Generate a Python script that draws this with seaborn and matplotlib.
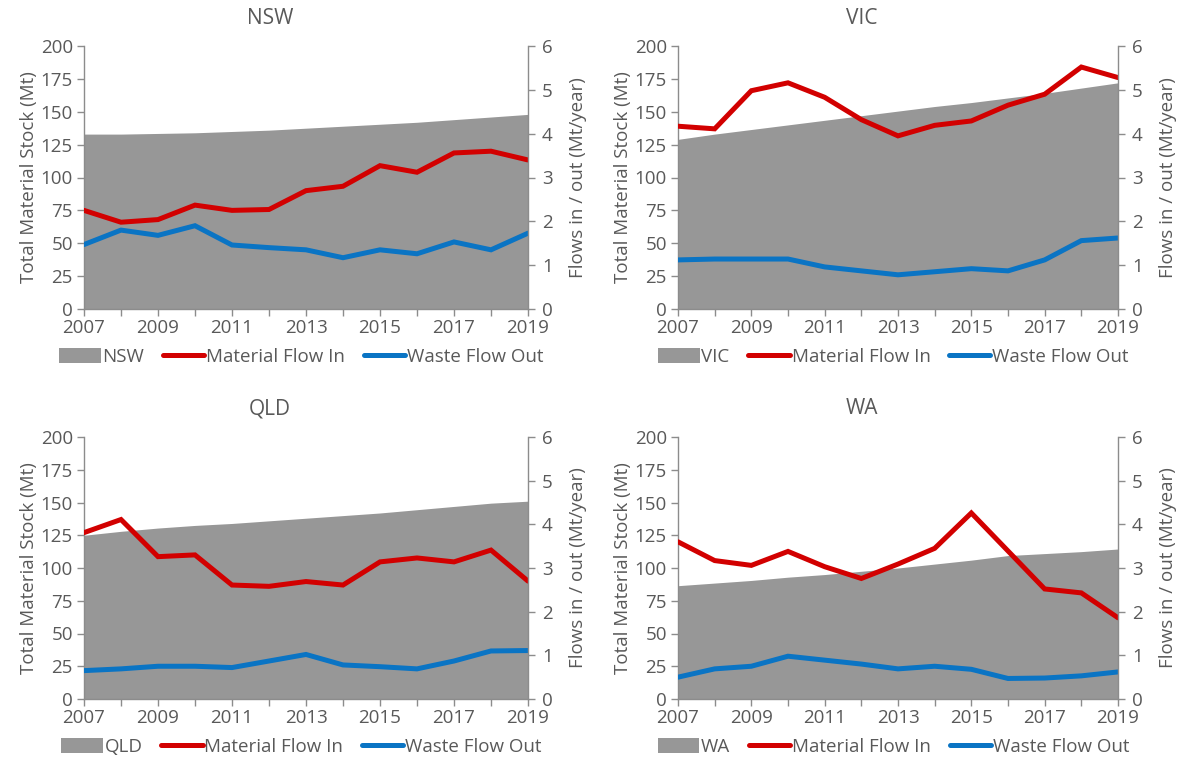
import numpy as np
import pandas as pd
import matplotlib
matplotlib.use("Agg")
import matplotlib.pyplot as plt
from matplotlib.patches import Patch
from matplotlib.lines import Line2D
from matplotlib.ticker import MultipleLocator, FixedLocator
import seaborn as sns

# ---- data -------------------------------------------------------------
years = list(range(2007, 2020))
label_years = list(range(2007, 2020, 2))
states = ["NSW", "VIC", "QLD", "WA"]

# Total material stock (Mt), left axis
stock_nsw = [133, 133, 133.5, 134, 135, 136, 137.5, 139, 140.5, 142, 144, 146, 148]
stock_vic = [129, 133, 136.5, 140, 143.5, 147, 150.5, 154, 157, 160.5, 164, 168, 172]
stock_qld = [125, 128, 130.5, 132.5, 134, 136, 138, 140, 142, 144.5, 147, 149.5, 151]
stock_wa = [86.5, 88.5, 90.5, 93, 95, 97.5, 100, 103, 106, 109.5, 111, 112.5, 114.5]

# Material flow in (Mt/year), right axis
flow_in_nsw = [2.25, 1.98, 2.04, 2.37, 2.25, 2.27, 2.70, 2.80, 3.27, 3.12, 3.56, 3.60, 3.40]
flow_in_vic = [4.17, 4.11, 4.98, 5.16, 4.83, 4.32, 3.95, 4.19, 4.29, 4.65, 4.90, 5.52, 5.28]
flow_in_qld = [3.81, 4.11, 3.26, 3.30, 2.61, 2.58, 2.69, 2.61, 3.14, 3.23, 3.14, 3.41, 2.70]
flow_in_wa = [3.60, 3.17, 3.06, 3.38, 3.03, 2.76, 3.09, 3.45, 4.26, 3.39, 2.52, 2.43, 1.86]

# Waste flow out (Mt/year), right axis
flow_out_nsw = [1.47, 1.80, 1.68, 1.90, 1.46, 1.40, 1.35, 1.17, 1.35, 1.26, 1.53, 1.35, 1.73]
flow_out_vic = [1.12, 1.14, 1.14, 1.14, 0.96, 0.87, 0.78, 0.85, 0.92, 0.87, 1.12, 1.56, 1.62]
flow_out_qld = [0.65, 0.69, 0.75, 0.75, 0.72, 0.87, 1.02, 0.78, 0.74, 0.69, 0.87, 1.10, 1.11]
flow_out_wa = [0.50, 0.69, 0.75, 0.98, 0.89, 0.80, 0.69, 0.75, 0.68, 0.47, 0.48, 0.53, 0.62]

stocks = {"NSW": stock_nsw, "VIC": stock_vic, "QLD": stock_qld, "WA": stock_wa}
flows_in = {"NSW": flow_in_nsw, "VIC": flow_in_vic, "QLD": flow_in_qld, "WA": flow_in_wa}
flows_out = {"NSW": flow_out_nsw, "VIC": flow_out_vic, "QLD": flow_out_qld, "WA": flow_out_wa}

# ---- style ------------------------------------------------------------
sns.set_theme(style="white")
plt.rcParams["font.family"] = ["Open Sans", "DejaVu Sans"]

TEXT = "#595959"
SPINE = "#8c8c8c"
FILL = "#979797"
RED = "#d20000"
BLUE = "#0a74c4"
LW = 3.6
FS = 13.5

W, H = 1198, 760
fig = plt.figure(figsize=(W / 100, H / 100), dpi=100)

# panel geometry in pixels: (left, right, top, bottom) of the plot area
boxes = {
    "NSW": (84, 528, 46, 309),
    "VIC": (678, 1118, 46, 309),
    "QLD": (84, 528, 437, 699),
    "WA": (678, 1118, 437, 699),
}

for st in states:
    l, r, t, b = boxes[st]
    ax = fig.add_axes([l / W, 1 - b / H, (r - l) / W, (b - t) / H])
    df = pd.DataFrame({
        "year": years,
        "stock": stocks[st],
        "in": flows_in[st],
        "out": flows_out[st],
    })

    ax.fill_between(df["year"], 0, df["stock"], color=FILL, linewidth=0, zorder=1)
    ax.set_xlim(2007, 2019)
    ax.set_ylim(0, 200)
    ax.yaxis.set_major_locator(MultipleLocator(25))
    ax.xaxis.set_major_locator(FixedLocator(label_years))
    ax.xaxis.set_minor_locator(FixedLocator(years))
    ax.set_xlabel("")
    ax.set_ylabel("Total Material Stock (Mt)", color=TEXT, fontsize=FS, labelpad=2)

    ax2 = ax.twinx()
    sns.lineplot(data=df, x="year", y="in", ax=ax2, color=RED, linewidth=LW,
                 solid_joinstyle="miter", legend=False)
    sns.lineplot(data=df, x="year", y="out", ax=ax2, color=BLUE, linewidth=LW,
                 solid_joinstyle="miter", legend=False)
    ax2.set_ylim(0, 6)
    ax2.set_xlim(2007, 2019)
    ax2.yaxis.set_major_locator(MultipleLocator(1))
    ax2.set_xlabel("")
    ax2.set_ylabel("Flows in / out (Mt/year)", color=TEXT, fontsize=FS, labelpad=12)

    for a in (ax, ax2):
        for side in a.spines:
            a.spines[side].set_visible(False)
    ax.spines["left"].set_visible(True)
    ax.spines["bottom"].set_visible(True)
    ax2.spines["right"].set_visible(True)
    for sp in (ax.spines["left"], ax.spines["bottom"], ax2.spines["right"]):
        sp.set_color(SPINE)
        sp.set_linewidth(1.0)

    ax.tick_params(axis="y", which="major", direction="out", length=5, width=1,
                   color=SPINE, labelcolor=TEXT, labelsize=FS, pad=3, left=True)
    ax.tick_params(axis="x", which="both", direction="out", length=5, width=1,
                   color=SPINE, labelcolor=TEXT, labelsize=FS, pad=2, bottom=True)
    ax2.tick_params(axis="y", which="major", direction="out", length=5, width=1,
                    color=SPINE, labelcolor=TEXT, labelsize=FS, pad=5, right=True)
    ax.set_xticklabels([str(v) for v in label_years])

    ax.grid(False)
    ax2.grid(False)

    # panel title
    cx = (l + r) / 2 - 36
    fig.text(cx / W, 1 - (t - 28) / H, st, ha="center", va="center",
             color=TEXT, fontsize=15)

    handles = [
        Patch(facecolor=FILL, edgecolor="none", label=st),
        Line2D([0], [0], color=RED, lw=LW, label="Material Flow In"),
        Line2D([0], [0], color=BLUE, lw=LW, label="Waste Flow Out"),
    ]
    leg = ax.legend(handles=handles, loc="center", ncol=3, frameon=False,
                    bbox_to_anchor=(0.49, -0.183), fontsize=FS,
                    handlelength=2.2, handleheight=0.8, handletextpad=0.1,
                    columnspacing=1.0, borderaxespad=0)
    for txt in leg.get_texts():
        txt.set_color(TEXT)

fig.savefig("out.png", dpi=100, facecolor="white")
